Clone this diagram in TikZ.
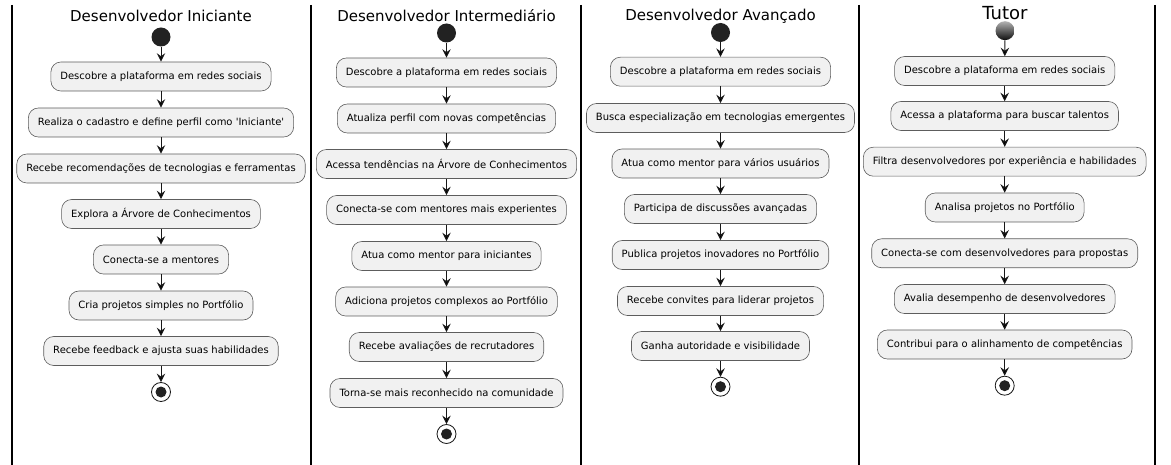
\documentclass[tikz,border=0pt]{standalone}
\usepackage{fontspec}
\setmainfont{DejaVu Sans}
\usetikzlibrary{arrows.meta}

\definecolor{boxfill}{HTML}{F1F1F1}
\definecolor{boxline}{HTML}{181818}
\definecolor{dotfill}{HTML}{222222}

\begin{document}
\begin{tikzpicture}[x=1pt,y=-1pt]
% Diagram style
\tikzset{
    activity/.style={draw=boxline!70, line width=0.6pt, fill=boxfill, rounded corners=10pt,
        minimum height=29pt, inner xsep=9.5pt, font=\fontsize{10}{12}\selectfont},
    startdot/.style={circle, fill=dotfill, minimum size=19pt, inner sep=0pt},
    tutordot/.style={circle, top color=black!30, bottom color=black!95, minimum size=19pt, inner sep=0pt},
    enddot/.style={circle, draw=boxline, line width=0.8pt, fill=white, minimum size=19pt, inner sep=0pt,
        path picture={\fill[dotfill] (path picture bounding box.center) circle (5.5pt);}},
    lanetitle/.style={anchor=base, font=\fontsize{15}{18}\selectfont},
    flow/.style={draw=boxline, line width=1pt, -{Stealth[length=8.5pt,width=8.5pt,inset=3pt]}},
    lane/.style={line width=1.6pt}
}
\useasboundingbox (0,0) rectangle (1171,465);
% Swimlanes
\draw[lane] (12,5) -- (12,465);
\draw[lane] (311,5) -- (311,465);
\draw[lane] (581,5) -- (581,465);
\draw[lane] (859,5) -- (859,465);
\draw[lane] (1155,5) -- (1155,465);

% Desenvolvedor Iniciante
\node[lanetitle] (TitIni) at (161,22) {Desenvolvedor Iniciante};
\node[startdot] (Ini0) at (161,37) {};
\node[activity] (Ini1) at (161,76.5) {Descobre a plataforma em redes sociais};
\node[activity] (Ini2) at (161,122.5) {Realiza o cadastro e define perfil como \textquotesingle Iniciante\textquotesingle};
\node[activity] (Ini3) at (161,168.5) {Recebe recomendações de tecnologias e ferramentas};
\node[activity] (Ini4) at (161,214) {Explora a Árvore de Conhecimentos};
\node[activity] (Ini5) at (161,259.5) {Conecta-se a mentores};
\node[activity] (Ini6) at (161,305.5) {Cria projetos simples no Portfólio};
\node[activity] (Ini7) at (161,351) {Recebe feedback e ajusta suas habilidades};
\node[enddot] (IniEnd) at (161,392) {};
\draw[flow] (Ini0) edge (Ini1) (Ini1) edge (Ini2) (Ini2) edge (Ini3) (Ini3) edge (Ini4)
    (Ini4) edge (Ini5) (Ini5) edge (Ini6) (Ini6) edge (Ini7) (Ini7) edge (IniEnd);

% Desenvolvedor Intermediario
\node[lanetitle] (TitInt) at (446.5,22) {Desenvolvedor Intermediário};
\node[startdot] (Int0) at (446.5,33) {};
\node[activity] (Int1) at (446.5,72.5) {Descobre a plataforma em redes sociais};
\node[activity] (Int2) at (446.5,118.5) {Atualiza perfil com novas competências};
\node[activity] (Int3) at (446.5,164) {Acessa tendências na Árvore de Conhecimentos};
\node[activity] (Int4) at (446.5,210) {Conecta-se com mentores mais experientes};
\node[activity] (Int5) at (446.5,256) {Atua como mentor para iniciantes};
\node[activity] (Int6) at (446.5,301.5) {Adiciona projetos complexos ao Portfólio};
\node[activity] (Int7) at (446.5,347) {Recebe avaliações de recrutadores};
\node[activity] (Int8) at (446.5,393) {Torna-se mais reconhecido na comunidade};
\node[enddot] (IntEnd) at (446.5,434) {};
\draw[flow] (Int0) edge (Int1) (Int1) edge (Int2) (Int2) edge (Int3) (Int3) edge (Int4)
    (Int4) edge (Int5) (Int5) edge (Int6) (Int6) edge (Int7) (Int7) edge (Int8) (Int8) edge (IntEnd);

% Desenvolvedor Avancado
\node[lanetitle] (TitAva) at (720.5,21) {Desenvolvedor Avançado};
\node[startdot] (Ava0) at (720.5,32.5) {};
\node[activity] (Ava1) at (720.5,71.7) {Descobre a plataforma em redes sociais};
\node[activity] (Ava2) at (720.5,118) {Busca especialização em tecnologias emergentes};
\node[activity] (Ava3) at (720.5,163.5) {Atua como mentor para vários usuários};
\node[activity] (Ava4) at (720.5,209) {Participa de discussões avançadas};
\node[activity] (Ava5) at (720.5,255) {Publica projetos inovadores no Portfólio};
\node[activity] (Ava6) at (720.5,301) {Recebe convites para liderar projetos};
\node[activity] (Ava7) at (720.5,346) {Ganha autoridade e visibilidade};
\node[enddot] (AvaEnd) at (720.5,386.7) {};
\draw[flow] (Ava0) edge (Ava1) (Ava1) edge (Ava2) (Ava2) edge (Ava3) (Ava3) edge (Ava4)
    (Ava4) edge (Ava5) (Ava5) edge (Ava6) (Ava6) edge (Ava7) (Ava7) edge (AvaEnd);

% Tutor
\node[lanetitle, font=\fontsize{18}{21}\selectfont] (TitTut) at (1005,20) {Tutor};
\node[tutordot] (Tut0) at (1005,30.7) {};
\node[activity] (Tut1) at (1004.7,71) {Descobre a plataforma em redes sociais};
\node[activity] (Tut2) at (1004.7,116) {Acessa a plataforma para buscar talentos};
\node[activity] (Tut3) at (1004.7,161.7) {Filtra desenvolvedores por experiência e habilidades};
\node[activity] (Tut4) at (1004.7,207.5) {Analisa projetos no Portfólio};
\node[activity] (Tut5) at (1004.7,253.3) {Conecta-se com desenvolvedores para propostas};
\node[activity] (Tut6) at (1004.7,299) {Avalia desempenho de desenvolvedores};
\node[activity] (Tut7) at (1004.7,344.5) {Contribui para o alinhamento de competências};
\node[enddot] (TutEnd) at (1004.7,385.7) {};
\draw[flow] (Tut0) edge (Tut1) (Tut1) edge (Tut2) (Tut2) edge (Tut3) (Tut3) edge (Tut4)
    (Tut4) edge (Tut5) (Tut5) edge (Tut6) (Tut6) edge (Tut7) (Tut7) edge (TutEnd);
\end{tikzpicture}
\end{document}
